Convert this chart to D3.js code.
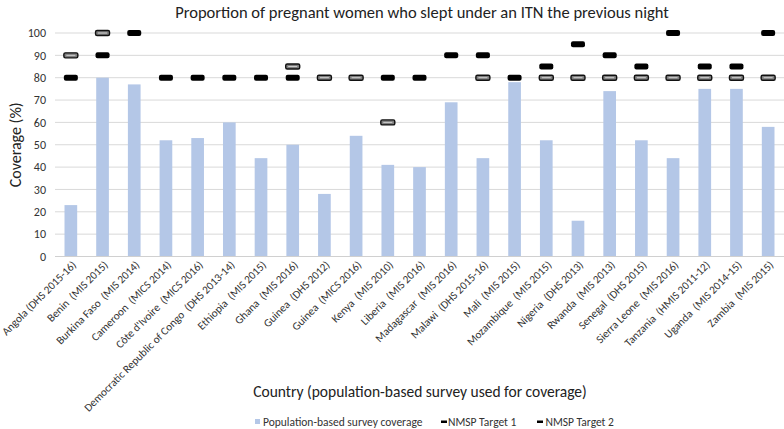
<!DOCTYPE html>
<html><head><meta charset="utf-8">
<script src="https://cdn.jsdelivr.net/npm/d3@7/dist/d3.min.js"></script>
<style>
body{margin:0;background:#fff;}
text{font-family:Carlito,Calibri,Lato,"Liberation Sans",sans-serif;}
</style></head>
<body><svg id="c" width="784" height="429"></svg>
<script>
const categories = ["Angola (DHS 2015-16)","Benin  (MIS 2015)","Burkina Faso  (MIS 2014)","Cameroon  (MICS 2014)","Côte d'Ivoire  (MICS 2016)","Democratic Republic of Congo  (DHS 2013-14)","Ethiopia  (MIS 2015)","Ghana  (MIS 2016)","Guinea  (DHS 2012)","Guinea  (MICS 2016)","Kenya  (MIS 2010)","Liberia  (MIS 2016)","Madagascar  (MIS 2016)","Malawi  (DHS 2015-16)","Mali  (MIS 2015)","Mozambique  (MIS 2015)","Nigeria  (DHS 2013)","Rwanda  (MIS 2013)","Senegal  (DHS 2015)","Sierra Leone  (MIS 2016)","Tanzania  (HMIS 2011-12)","Uganda  (MIS 2014-15)","Zambia  (MIS 2015)"];
const coverage = [23,80,77,52,53,60,44,50,28,54,41,40,69,44,78,52,16,74,52,44,75,75,58];
const target1 = [80,90,100,80,80,80,80,80,null,null,80,80,90,90,80,85,95,90,85,100,85,85,100];
const target2 = [90,100,null,null,null,null,null,85,80,80,60,null,null,80,null,80,80,80,80,80,80,80,80];
const yTicks = [0,10,20,30,40,50,60,70,80,90,100];

const svg = d3.select("#c");
const L=55, R=784, T=33, B=256.5;
const x = d3.scaleBand().domain(categories).range([L,R]).paddingInner(0.6).paddingOuter(0.3);
const y = d3.scaleLinear().domain([0,100]).range([B,T]);

svg.append("text").attr("x",422).attr("y",18).attr("text-anchor","middle")
  .attr("font-size",16.5).attr("fill","#222").text("Proportion of pregnant women who slept under an ITN the previous night");

svg.append("g").selectAll("line").data(yTicks.filter(d=>d>0)).join("line")
  .attr("x1",L).attr("x2",R).attr("y1",d=>y(d)).attr("y2",d=>y(d))
  .attr("stroke","#d9d9d9").attr("stroke-width",1);

const ya = svg.append("g").attr("transform",`translate(${L},0)`)
  .call(d3.axisLeft(y).tickValues(yTicks).tickSize(0).tickPadding(9));
ya.select(".domain").remove();
ya.selectAll("text").attr("font-size",12).attr("fill","#333").style("font-family","Carlito,Calibri,Lato,'Liberation Sans',sans-serif");

svg.append("text").attr("transform",`translate(21,${(T+B)/2}) rotate(-90)`)
  .attr("text-anchor","middle").attr("font-size",16).attr("fill","#222").text("Coverage (%)");

svg.append("g").selectAll("rect").data(coverage).join("rect")
  .attr("x",(d,i)=>x(categories[i])).attr("width",x.bandwidth())
  .attr("y",d=>y(d)).attr("height",d=>B-y(d)).attr("fill","#b4c7e7");

svg.append("line").attr("x1",L).attr("x2",R).attr("y1",B).attr("y2",B).attr("stroke","#d0d0d0");

const mw=14, mh=5;
const t2 = svg.append("g").selectAll("g").data(target2.map((v,i)=>({v,i})).filter(d=>d.v!=null)).join("g");
t2.append("rect").attr("x",d=>x(categories[d.i])+x.bandwidth()/2-mw/2).attr("y",d=>y(d.v)-mh/2)
  .attr("width",mw).attr("height",mh).attr("rx",1.5).attr("fill","#7f7f7f").attr("stroke","#111").attr("stroke-width",1.4);
t2.append("line").attr("x1",d=>x(categories[d.i])+x.bandwidth()/2-mw/2+2.5).attr("x2",d=>x(categories[d.i])+x.bandwidth()/2+mw/2-2.5)
  .attr("y1",d=>y(d.v)).attr("y2",d=>y(d.v)).attr("stroke","#cfcfcf").attr("stroke-width",1);
svg.append("g").selectAll("rect").data(target1.map((v,i)=>({v,i})).filter(d=>d.v!=null)).join("rect")
  .attr("x",d=>x(categories[d.i])+x.bandwidth()/2-mw/2).attr("y",d=>y(d.v)-mh/2-0.5)
  .attr("width",mw).attr("height",mh+1).attr("rx",2).attr("fill","#000");

svg.append("g").selectAll("text").data(categories).join("text")
  .attr("transform",d=>`translate(${x(d)+x.bandwidth()/2+6},${B+9}) rotate(-45)`)
  .attr("text-anchor","end").attr("font-size",11.2).attr("fill","#333")
  .style("white-space","pre").text(d=>d);

svg.append("text").attr("x",420).attr("y",397).attr("text-anchor","middle")
  .attr("font-size",15.5).attr("fill","#222").text("Country (population-based survey used for coverage)");

const lg = svg.append("g").attr("font-size",11.5).attr("fill","#333");
lg.append("rect").attr("x",255).attr("y",419).attr("width",5).attr("height",5).attr("fill","#b4c7e7");
lg.append("text").attr("x",263).attr("y",425.5).text("Population-based survey coverage");
lg.append("rect").attr("x",441).attr("y",420.5).attr("width",6).attr("height",2.5).attr("fill","#000");
lg.append("text").attr("x",448).attr("y",425.5).text("NMSP Target 1");
lg.append("rect").attr("x",537).attr("y",420.5).attr("width",6).attr("height",2.5).attr("fill","#000");
lg.append("text").attr("x",545.5).attr("y",425.5).text("NMSP Target 2");
</script></body></html>
